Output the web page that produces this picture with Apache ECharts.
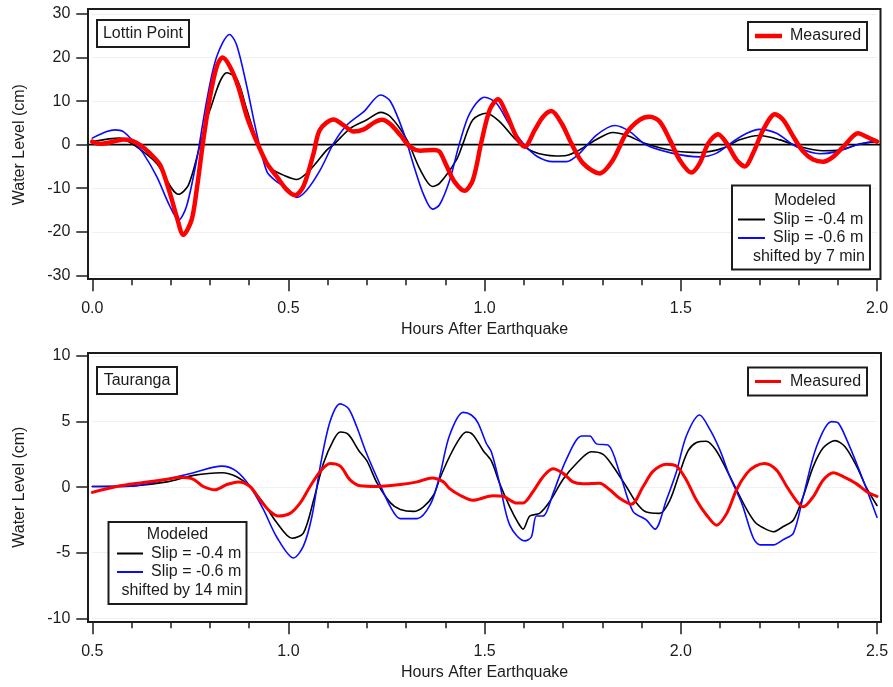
<!DOCTYPE html>
<html>
<head>
<meta charset="utf-8">
<title>Tsunami water level: Lottin Point and Tauranga</title>
<script src="https://cdn.jsdelivr.net/npm/echarts@6/dist/echarts.min.js"></script>
<style>
  html, body { margin: 0; padding: 0; background: #fff; }
  #chart { width: 893px; height: 687px; }
</style>
</head>
<body>
<div id="chart"></div>
<script>
// ---- Lottin Point (hours after earthquake, water level in cm) ----
const lottinSlip04 = [
  [0, 0.7], [0.07, 1.5], [0.105, 0], [0.164, -4.3], [0.22, -11.4], [0.245, -9.3], [0.275, 0],
  [0.30, 8], [0.343, 16.5], [0.368, 15.2], [0.394, 8], [0.419, 1], [0.445, -4.3], [0.453, -5.4],
  [0.487, -7], [0.521, -8], [0.555, -5.8], [0.598, -1.2], [0.615, 0], [0.657, 3.7], [0.70, 5.7],
  [0.735, 7.4], [0.76, 6.4], [0.802, 1.1], [0.836, -5.8], [0.867, -9.6], [0.885, -8.9],
  [0.928, -3.5], [0.945, 0.3], [0.97, 5.7], [1.004, 7.2], [1.038, 5.3], [1.08, 1.1],
  [1.123, -1.6], [1.183, -2.6], [1.208, -2.5], [1.242, -1.2], [1.285, 1.2], [1.327, 2.8],
  [1.36, 2.2], [1.412, 0.2], [1.48, -1.4], [1.548, -1.8], [1.608, -0.8], [1.65, 1.1],
  [1.70, 2.1], [1.753, 1.1], [1.804, -0.5], [1.863, -1.4], [1.906, -1.2], [1.957, 0.2], [2.0, 0.7]
];
const lottinSlip06 = [
  [0, 1.5], [0.037, 3], [0.058, 3.4], [0.079, 3], [0.105, 0.7], [0.13, -2], [0.164, -7.3],
  [0.198, -14.2], [0.22, -17.3], [0.24, -14.2], [0.266, -3.5], [0.292, 10.3], [0.317, 20.2],
  [0.35, 25.3], [0.368, 22.9], [0.394, 13.3], [0.419, 2.6], [0.445, -6.2], [0.47, -8.5],
  [0.496, -10], [0.521, -12.1], [0.547, -10.4], [0.581, -5.8], [0.615, 0.3], [0.649, 4.5],
  [0.692, 7.6], [0.735, 11.4], [0.76, 9.9], [0.794, 2.6], [0.82, -5], [0.845, -11.6],
  [0.867, -14.8], [0.885, -13.8], [0.911, -8.1], [0.936, 0.3], [0.962, 7.2], [1.0, 10.9],
  [1.03, 9.5], [1.064, 4.5], [1.098, 0.3], [1.132, -2.6], [1.174, -3.9], [1.208, -3.9],
  [1.242, -2], [1.285, 2.2], [1.332, 4.4], [1.37, 3], [1.412, -0.1], [1.48, -2], [1.548, -2.8],
  [1.59, -2], [1.633, 0.7], [1.668, 2.6], [1.70, 3.5], [1.744, 2.6], [1.795, -0.5],
  [1.855, -2.1], [1.897, -1.6], [1.948, -0.1], [2.0, 0.9]
];
const lottinMeasured = [
  [0, 0.7], [0.02, 0.2], [0.045, 0.5], [0.079, 1.2], [0.1, 0.9], [0.122, -0.1], [0.147, -2],
  [0.173, -4.7], [0.198, -11.2], [0.215, -16.5], [0.232, -20.7], [0.253, -17.3], [0.266, -10.4],
  [0.283, 1.1], [0.3, 11], [0.317, 17.9], [0.332, 20], [0.351, 17.9], [0.372, 13.3],
  [0.394, 6.4], [0.419, 0.7], [0.445, -4.3], [0.47, -7.3], [0.496, -10.4], [0.517, -11.6],
  [0.538, -9.6], [0.564, -2], [0.58, 3.4], [0.615, 5.8], [0.64, 4.5], [0.666, 3], [0.692, 3.5],
  [0.717, 5], [0.738, 5.7], [0.76, 4.7], [0.785, 2.2], [0.81, -0.5], [0.836, -1.4], [0.87, -1.2],
  [0.885, -1.6], [0.902, -4.7], [0.923, -8.5], [0.949, -10.6], [0.97, -8.1], [0.991, 0.3],
  [1.013, 8], [1.034, 10.4], [1.055, 7.2], [1.081, 1.8], [1.102, -0.5], [1.128, 3.4],
  [1.149, 6.4], [1.17, 7.7], [1.196, 4.9], [1.221, 0.3], [1.251, -4.3], [1.293, -6.6],
  [1.327, -3.5], [1.361, 2.6], [1.395, 5.7], [1.421, 6.4], [1.446, 5.3], [1.472, 1.1],
  [1.497, -3.5], [1.527, -6.4], [1.548, -4.3], [1.57, 0.3], [1.595, 2.4], [1.617, 0.3],
  [1.642, -3.5], [1.663, -5], [1.684, -2], [1.71, 3.4], [1.74, 7], [1.761, 5.7], [1.787, 1.8],
  [1.812, -1.6], [1.837, -3.4], [1.863, -3.9], [1.888, -2.8], [1.914, -0.5], [1.952, 2.6],
  [1.973, 1.8], [2.0, 0.7]
];

// ---- Tauranga ----
const taurangaSlip04 = [
  [0.5, 0.05], [0.605, 0.1], [0.69, 0.4], [0.758, 0.9], [0.83, 1.1], [0.868, 0.8], [0.902, 0.05],
  [0.936, -1.2], [0.97, -2.7], [1.009, -3.9], [1.038, -3.5], [1.064, -1.0], [1.089, 1.8],
  [1.115, 3.6], [1.132, 4.2], [1.153, 4.0], [1.179, 2.8], [1.2, 2.0], [1.226, 0.3], [1.26, -1.2],
  [1.285, -1.7], [1.319, -1.85], [1.344, -1.5], [1.37, -0.6], [1.385, 0.6], [1.41, 2.3],
  [1.436, 3.7], [1.453, 4.2], [1.47, 4.0], [1.496, 2.8], [1.517, 2.0], [1.538, 0.3],
  [1.564, -1.5], [1.585, -2.7], [1.598, -3.2], [1.615, -2.2], [1.64, -2.0], [1.666, -1.1],
  [1.7, 0.6], [1.734, 1.8], [1.772, 2.7], [1.802, 2.5], [1.827, 1.6], [1.861, 0.05],
  [1.887, -1.2], [1.912, -1.9], [1.946, -2.0], [1.972, -1.0], [1.997, 1.1], [2.019, 2.8],
  [2.04, 3.4], [2.065, 3.5], [2.09, 2.8], [2.117, 1.3], [2.142, -0.2], [2.168, -1.7],
  [2.19, -2.7], [2.21, -3.1], [2.236, -3.4], [2.261, -3.0], [2.287, -2.5], [2.312, -0.7],
  [2.338, 1.6], [2.363, 3.0], [2.393, 3.55], [2.418, 3.1], [2.448, 1.6], [2.474, -0.1], [2.5, -1.4]
];
const taurangaSlip06 = [
  [0.5, 0.05], [0.605, 0.1], [0.69, 0.6], [0.758, 1.1], [0.83, 1.6], [0.868, 1.2], [0.902, 0.05],
  [0.936, -1.7], [0.97, -3.8], [1.013, -5.4], [1.038, -4.5], [1.06, -2.2], [1.081, 1.6],
  [1.106, 5.0], [1.132, 6.35], [1.153, 6.0], [1.174, 4.6], [1.196, 2.8], [1.226, 0.7],
  [1.26, -1.5], [1.285, -2.4], [1.328, -2.4], [1.362, -1.3], [1.385, 0.8], [1.41, 3.9],
  [1.445, 5.7], [1.466, 5.5], [1.483, 4.9], [1.504, 3.35], [1.517, 2.7], [1.538, 0.3],
  [1.564, -2.9], [1.602, -4.1], [1.619, -3.8], [1.632, -2.2], [1.649, -2.2], [1.674, -0.5],
  [1.708, 2.1], [1.747, 3.9], [1.768, 3.9], [1.785, 3.3], [1.815, 3.2], [1.844, 1.1],
  [1.878, -1.85], [1.912, -2.5], [1.934, -3.2], [1.963, -1.0], [1.989, 1.2], [2.014, 3.9],
  [2.048, 5.5], [2.074, 4.4], [2.1, 2.8], [2.125, 0.8], [2.155, -1.2], [2.185, -3.9],
  [2.202, -4.4], [2.236, -4.4], [2.261, -4.0], [2.287, -3.5], [2.312, -0.7], [2.346, 3.1],
  [2.384, 5.0], [2.401, 4.9], [2.423, 3.6], [2.448, 1.8], [2.474, -0.2], [2.5, -2.3]
];
const taurangaMeasured = [
  [0.5, -0.4], [0.562, 0.05], [0.63, 0.35], [0.69, 0.6], [0.724, 0.75], [0.758, 0.6],
  [0.783, 0.05], [0.813, -0.2], [0.843, 0.2], [0.872, 0.4], [0.902, 0.05], [0.928, -1.0],
  [0.953, -1.85], [0.974, -2.2], [1.004, -2.0], [1.03, -1.2], [1.055, 0.05], [1.081, 1.2],
  [1.106, 1.8], [1.132, 1.6], [1.157, 0.55], [1.183, 0.1], [1.226, 0.05], [1.285, 0.2],
  [1.328, 0.4], [1.366, 0.7], [1.395, 0.4], [1.41, -0.1], [1.436, -0.6], [1.47, -1.0],
  [1.521, -0.65], [1.547, -0.7], [1.58, -1.2], [1.598, -1.2], [1.623, -0.35], [1.649, 0.8],
  [1.674, 1.4], [1.7, 1.05], [1.725, 0.4], [1.75, 0.25], [1.793, 0.3], [1.819, -0.2],
  [1.844, -0.85], [1.874, -1.3], [1.904, 0.05], [1.929, 1.2], [1.963, 1.75], [1.989, 1.6],
  [2.014, 0.55], [2.04, -1.0], [2.065, -2.1], [2.091, -2.9], [2.117, -2.0], [2.142, -0.2],
  [2.168, 1.05], [2.19, 1.6], [2.214, 1.8], [2.244, 1.3], [2.27, 0.05], [2.296, -1.1],
  [2.312, -1.5], [2.338, -0.7], [2.363, 0.55], [2.389, 1.1], [2.414, 0.8], [2.448, 0.25],
  [2.474, -0.35], [2.5, -0.7]
];

// ---- axis ranges and labels ----
const lottinHours = { min: 0, max: 2, step: 0.5 };
const lottinLevel = { min: -30, max: 30, step: 10 };
const taurangaHours = { min: 0.5, max: 2.5, step: 0.5 };
const taurangaLevel = { min: -10, max: 10, step: 5 };
const xTitle = 'Hours After Earthquake';
const yTitle = 'Water Level (cm)';

const FONT = '"Liberation Sans", Arial, Helvetica, sans-serif';
const INK = '#1c1c1c';

function xAxisFor(gridIndex, r) {
  return {
    gridIndex, type: 'value', min: r.min, max: r.max, interval: r.step, offset: 4,
    axisLine: { show: false, onZero: false },
    axisTick: { show: true, inside: false, length: 12, lineStyle: { color: INK, width: 1.5 } },
    minorTick: { show: true, splitNumber: 5, length: 6, lineStyle: { color: INK, width: 1.5 } },
    splitLine: { show: false },
    axisLabel: {
      fontFamily: FONT, fontSize: 16, color: INK, margin: 21,
      showMinLabel: true, showMaxLabel: true,
      formatter: v => v.toFixed(1)
    },
    name: xTitle, nameLocation: 'middle', nameGap: 42,
    nameTextStyle: { fontFamily: FONT, fontSize: 16, color: INK }
  };
}
function yAxisFor(gridIndex, r) {
  return {
    gridIndex, type: 'value', min: r.min, max: r.max, interval: r.step, offset: 4,
    axisLine: { show: false, onZero: false },
    axisTick: { show: true, inside: false, length: 12, lineStyle: { color: INK, width: 1.5 } },
    splitLine: { show: true, lineStyle: { color: '#e2e2e2', type: 'dotted', width: 1 } },
    axisLabel: {
      fontFamily: FONT, fontSize: 16, color: INK, margin: 18,
      showMinLabel: true, showMaxLabel: true
    },
    name: yTitle, nameLocation: 'middle', nameGap: 61, nameRotate: 90,
    nameTextStyle: { fontFamily: FONT, fontSize: 16, color: INK }
  };
}
function lineSeries(name, idx, data, color, width, z) {
  return {
    name, type: 'line', xAxisIndex: idx, yAxisIndex: idx, data,
    showSymbol: false, symbol: 'none', smooth: 0.3, z,
    lineStyle: { color, width, cap: 'round', join: 'round' },
    emphasis: { disabled: true }, silent: true, animation: false
  };
}

const chart = echarts.init(document.getElementById('chart'), null, { renderer: 'canvas' });
chart.setOption({
  backgroundColor: '#ffffff',
  animation: false,
  grid: [
    { left: 92.3, right: 16, top: 14, height: 261.3 },
    { left: 92.3, right: 16, top: 356, height: 262.3 }
  ],
  xAxis: [xAxisFor(0, lottinHours), xAxisFor(1, taurangaHours)],
  yAxis: [yAxisFor(0, lottinLevel), yAxisFor(1, taurangaLevel)],
  series: [
    lineSeries('Slip = -0.4 m', 0, lottinSlip04, '#000000', 1.6, 3),
    lineSeries('Slip = -0.6 m', 0, lottinSlip06, '#0a0aff', 1.6, 4),
    lineSeries('Measured', 0, lottinMeasured, '#ff0000', 4.5, 5),
    lineSeries('Slip = -0.4 m', 1, taurangaSlip04, '#000000', 1.6, 3),
    lineSeries('Slip = -0.6 m', 1, taurangaSlip06, '#0a0aff', 1.6, 4),
    lineSeries('Measured', 1, taurangaMeasured, '#ff0000', 3, 5)
  ]
});

// Frames, zero reference line and the legend boxes
const frameTop = { x: 88, y: 9, w: 792.5, h: 270 };
const frameBottom = { x: 88, y: 353, w: 793, h: 269 };
const zeroY = chart.convertToPixel({ yAxisIndex: 0 }, 0);

function box(x, y, w, h) {
  return { type: 'rect', shape: { x, y, width: w, height: h },
    style: { fill: '#ffffff', stroke: INK, lineWidth: 2 }, z: 10 };
}
function label(text, x, y, align) {
  return { type: 'text', x, y, z: 11,
    style: { text, fontFamily: FONT, fontSize: 16, fill: INK, align, verticalAlign: 'middle' } };
}
function swatch(x1, x2, y, color, width) {
  return { type: 'line', shape: { x1, y1: y, x2, y2: y }, z: 11,
    style: { stroke: color, lineWidth: width, lineCap: 'butt' } };
}

chart.setOption({
  graphic: [
    { type: 'rect', shape: { x: frameTop.x, y: frameTop.y, width: frameTop.w, height: frameTop.h },
      style: { fill: 'none', stroke: INK, lineWidth: 2 }, z: 9 },
    { type: 'rect', shape: { x: frameBottom.x, y: frameBottom.y, width: frameBottom.w, height: frameBottom.h },
      style: { fill: 'none', stroke: INK, lineWidth: 2 }, z: 9 },
    { type: 'line', shape: { x1: frameTop.x, y1: zeroY, x2: frameTop.x + frameTop.w, y2: zeroY },
      style: { stroke: '#000', lineWidth: 1.6 }, z: 1 },

    // Lottin Point panel
    box(97, 20, 92, 27), label('Lottin Point', 143, 33.5, 'center'),
    box(748, 22, 119, 28), swatch(755, 782, 36, '#ff0000', 4.5), label('Measured', 790, 36, 'left'),
    box(732, 185.5, 138, 84),
    label('Modeled', 805, 200.5, 'center'),
    swatch(738, 765, 219.5, '#000000', 2), label('Slip = -0.4 m', 773, 219.5, 'left'),
    swatch(738, 765, 238, '#0a0aff', 2), label('Slip = -0.6 m', 773, 238, 'left'),
    label('shifted by 7 min', 865, 256.5, 'right'),

    // Tauranga panel
    box(97, 367, 80, 27), label('Tauranga', 137, 380.5, 'center'),
    box(748, 367.5, 119, 28), swatch(755, 781, 381.5, '#ff0000', 3), label('Measured', 790, 381.5, 'left'),
    box(108.5, 522, 138, 82),
    label('Modeled', 177.5, 534.5, 'center'),
    swatch(117, 143, 553.5, '#000000', 2), label('Slip = -0.4 m', 151, 553.5, 'left'),
    swatch(117, 143, 572, '#0a0aff', 2), label('Slip = -0.6 m', 151, 572, 'left'),
    label('shifted by 14 min', 242.5, 590.5, 'right')
  ]
});
</script>
</body>
</html>
